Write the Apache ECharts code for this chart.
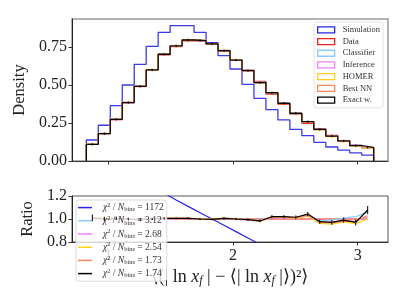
<!DOCTYPE html>
<html>
<head>
<meta charset="utf-8">
<script src="https://cdn.jsdelivr.net/npm/echarts@6/dist/echarts.min.js"></script>
<style>html,body{margin:0;padding:0;background:#fff}#c{width:407px;height:305px}</style>
</head>
<body>
<div id="c"></div>
<script>
// ---- data ----
const nBins = 24;
const binLo = 0.824;
const binW = 0.096;
const simulation = [0.138,0.235,0.364,0.500,0.636,0.754,0.846,0.890,0.890,0.846,0.778,0.693,0.605,0.504,0.412,0.338,0.270,0.208,0.167,0.123,0.092,0.072,0.053,0.039];
const dataHist   = [0.109,0.180,0.273,0.384,0.493,0.599,0.698,0.752,0.791,0.792,0.772,0.722,0.664,0.598,0.524,0.440,0.373,0.309,0.248,0.213,0.169,0.133,0.104,0.083];
const classifier = [0.110,0.181,0.275,0.386,0.492,0.600,0.701,0.756,0.795,0.791,0.771,0.727,0.666,0.596,0.518,0.449,0.379,0.312,0.256,0.210,0.167,0.134,0.106,0.088];
const inference  = [0.110,0.180,0.273,0.383,0.490,0.598,0.700,0.755,0.794,0.790,0.769,0.724,0.662,0.593,0.514,0.446,0.377,0.311,0.255,0.207,0.165,0.131,0.102,0.085];
const homer      = [0.111,0.181,0.275,0.385,0.492,0.600,0.703,0.758,0.797,0.793,0.771,0.727,0.665,0.595,0.514,0.447,0.378,0.311,0.255,0.205,0.161,0.127,0.100,0.083];
const bestNN     = [0.110,0.180,0.274,0.385,0.492,0.600,0.702,0.757,0.796,0.792,0.770,0.726,0.664,0.594,0.515,0.448,0.379,0.313,0.257,0.206,0.163,0.130,0.102,0.086];
const exactW     = [0.110,0.180,0.274,0.384,0.491,0.599,0.702,0.757,0.796,0.792,0.770,0.726,0.664,0.594,0.515,0.449,0.380,0.314,0.259,0.208,0.164,0.132,0.101,0.090];
const exactErr   = [0.008,0.008,0.008,0.008,0.008,0.008,0.008,0.008,0.008,0.008,0.008,0.008,0.008,0.008,0.008,0.008,0.008,0.008,0.008,0.008,0.008,0.008,0.008,0.008];

const rSim   = [1.25,1.31,1.33,1.30,1.29,1.26,1.225,1.165,1.11,1.055,1.0,0.945,0.89,0.835,0.78,0.77,0.72,0.67,0.67,0.58,0.54,0.54,0.51,0.47];
const rData  = [1,1,1,1,1,1,1,1,1,1,1,1,1,1,1,1,1,1,1,1,1,1,1,1];
const rClass = [1.01,1.005,1.008,1.004,0.998,1.002,1.004,1.005,1.005,1.0,0.998,1.007,1.003,0.997,0.988,1.02,1.016,1.01,1.032,0.985,0.99,1.01,1.02,1.06];
const rInf   = [1.0,1.0,1.0,0.997,0.994,0.998,1.002,1.003,1.003,0.998,0.996,1.003,0.997,0.99,0.98,1.012,1.01,1.005,1.025,0.97,0.975,0.985,0.98,1.02];
const rHomer = [1.015,1.005,1.008,1.003,0.998,1.002,1.007,1.008,1.008,1.001,0.999,1.007,1.002,0.995,0.981,1.015,1.013,1.006,1.028,0.962,0.955,0.975,0.96,1.0];
const rBest  = [1.005,1.0,1.004,1.002,0.998,1.001,1.005,1.006,1.006,1.0,0.997,1.005,1.0,0.994,0.983,1.018,1.016,1.012,1.035,0.97,0.965,0.98,0.98,1.03];
const rExact = [1.010,1.000,1.005,1.000,0.995,1.000,1.005,1.006,1.006,1.000,0.997,1.006,1.000,0.994,0.983,1.020,1.020,1.015,1.043,0.977,0.970,0.990,0.970,1.078];
const rExactErr = [0.03,0.02,0.015,0.012,0.01,0.01,0.01,0.01,0.01,0.01,0.01,0.01,0.01,0.012,0.012,0.014,0.014,0.016,0.018,0.02,0.02,0.022,0.026,0.035];

const topNames = ['Simulation','Data','Classifier','Inference','HOMER','Best NN','Exact w.'];
const chiNames = ['rSim','rClass','rInf','rHomer','rBest','rExact'];
const chiValues = ['1172','3.12','2.68','2.54','1.73','1.74'];
const densityTicks = [0, 0.25, 0.5, 0.75];
const ratioTicks = [0.8, 1.0, 1.2];
const xTicks = [1, 2, 3];

// ---- helpers ----
const edges = Array.from({length: nBins + 1}, (_, i) => +(binLo + i * binW).toFixed(4));
const centers = edges.slice(0, -1).map(e => +(e + binW / 2).toFixed(4));
function stepData(vals) {
  const d = [[edges[0], 0]];
  vals.forEach((v, i) => d.push([edges[i], v]));
  d.push([edges[nBins], vals[nBins - 1]]);
  d.push([edges[nBins], 0]);
  return d;
}
const ratioData = vals => vals.map((v, i) => [centers[i], v]);
const errData = (vals, errs) => vals.map((v, i) => [centers[i], v - errs[i], v + errs[i]]);

const colors = {
  Simulation: '#2525e6', Data: '#f02020', Classifier: '#87cefa', Inference: '#ee82ee',
  HOMER: '#ffd21a', 'Best NN': '#f4895a', 'Exact w.': '#000000'
};
const ratioColor = {rSim: colors.Simulation, rClass: colors.Classifier, rInf: colors.Inference,
  rHomer: colors.HOMER, rBest: colors['Best NN'], rExact: '#000000', rData: colors.Data};

const serif = "'Liberation Serif', 'DejaVu Serif', serif";
const xMin = 0.709, xMax = 3.243;

function errSeries(name, xi, yi, data) {
  return {
    type: 'custom', name: name, xAxisIndex: xi, yAxisIndex: yi, data: data, z: 10, silent: true,
    renderItem: function (params, api) {
      const p1 = api.coord([api.value(0), api.value(1)]);
      const p2 = api.coord([api.value(0), api.value(2)]);
      return {type: 'line', shape: {x1: p1[0], y1: p1[1], x2: p2[0], y2: p2[1]},
        style: {stroke: '#000', lineWidth: 1}};
    }
  };
}

const topSeries = [
  ['Simulation', simulation], ['Data', dataHist], ['Classifier', classifier], ['Inference', inference],
  ['HOMER', homer], ['Best NN', bestNN], ['Exact w.', exactW]
].map(([n, v]) => ({
  type: 'line', name: n, xAxisIndex: 0, yAxisIndex: 0, step: 'end', data: stepData(v),
  symbol: 'none', showSymbol: false, color: colors[n],
  lineStyle: {width: 1.3, color: colors[n], opacity: n === 'Simulation' ? 0.9 : 0.95}
}));

const botSeries = [
  ['rSim', rSim], ['rData', rData], ['rClass', rClass], ['rInf', rInf],
  ['rHomer', rHomer], ['rBest', rBest], ['rExact', rExact]
].map(([n, v]) => ({
  type: 'line', name: n, xAxisIndex: 1, yAxisIndex: 1, data: ratioData(v), clip: true,
  symbol: 'none', showSymbol: false, color: ratioColor[n],
  lineStyle: {width: 1.2, color: ratioColor[n]}
}));

const tickLabel = {fontFamily: serif, fontSize: 16, color: '#222'};

const option = {
  animation: false,
  backgroundColor: '#fff',
  grid: [
    {left: 72, top: 19, width: 316, height: 142, show: true, borderColor: '#999', borderWidth: 1.5, backgroundColor: 'transparent'},
    {left: 72, top: 196, width: 316, height: 46, show: true, borderColor: '#555', borderWidth: 1, backgroundColor: 'transparent'}
  ],
  xAxis: [
    {type: 'value', gridIndex: 0, min: xMin, max: xMax,
      axisLine: {show: true, onZero: false, lineStyle: {color: '#333', width: 1}},
      axisTick: {show: true, inside: false, length: 3.5, customValues: xTicks, lineStyle: {color: '#333'}},
      axisLabel: {show: false}, splitLine: {show: false}},
    {type: 'value', gridIndex: 1, min: xMin, max: xMax,
      name: '⟨(| ln {i|x}{sub|f} | − ⟨| ln {i|x}{sub|f} |⟩)²⟩', nameLocation: 'middle', nameGap: 26,
      nameTextStyle: {fontFamily: serif, fontSize: 18, color: '#222',
        rich: {i: {fontFamily: serif, fontStyle: 'italic', fontSize: 18, color: '#222'},
               sub: {fontFamily: serif, fontStyle: 'italic', fontSize: 12, color: '#222', padding: [7, 0, 0, 0]}}},
      axisLine: {show: true, onZero: false, lineStyle: {color: '#333', width: 1}},
      axisTick: {show: true, inside: false, length: 3.5, customValues: xTicks, lineStyle: {color: '#333'}},
      axisLabel: Object.assign({margin: 6, customValues: xTicks, formatter: v => String(Math.round(v))}, tickLabel),
      splitLine: {show: false}}
  ],
  yAxis: [
    {type: 'value', gridIndex: 0, min: 0, max: 0.934,
      name: 'Density', nameLocation: 'middle', nameGap: 32,
      nameTextStyle: {fontFamily: serif, fontSize: 16.5, color: '#222'},
      axisLine: {show: true, lineStyle: {color: '#222', width: 1}},
      axisTick: {show: true, inside: false, length: 3.5, customValues: densityTicks, lineStyle: {color: '#333'}},
      axisLabel: Object.assign({margin: 5, customValues: densityTicks, formatter: v => v.toFixed(2)}, tickLabel),
      splitLine: {show: false}},
    {type: 'value', gridIndex: 1, min: 0.8, max: 1.2,
      name: 'Ratio', nameLocation: 'middle', nameGap: 26,
      nameTextStyle: {fontFamily: serif, fontSize: 16.5, color: '#222'},
      axisLine: {show: true, lineStyle: {color: '#222', width: 1}},
      axisTick: {show: true, inside: false, length: 3.5, customValues: ratioTicks, lineStyle: {color: '#333'}},
      axisLabel: Object.assign({margin: 5, customValues: ratioTicks, formatter: v => v.toFixed(1)}, tickLabel),
      splitLine: {show: false}}
  ],
  legend: [
    {left: 314, top: 22, orient: 'vertical', itemGap: 0, itemWidth: 17, itemHeight: 6,
      padding: [2, 3, 2, 3], backgroundColor: 'rgba(255,255,255,0.8)', borderColor: '#e2e2e2', borderWidth: 1, borderRadius: 3,
      icon: 'rect', selectedMode: false,
      textStyle: {fontFamily: serif, fontSize: 8.5, lineHeight: 11.7, color: '#333', padding: [0, 0, 0, 3]},
      data: topNames.map(n => ({name: n, itemStyle: {color: '#fff', borderColor: colors[n], borderWidth: 1.3}}))},
    {left: 76, top: 200, orient: 'vertical', itemGap: 0, itemWidth: 14, itemHeight: 1.5,
      padding: [1, 3, 1, 2], backgroundColor: 'rgba(255,255,255,0.8)', borderColor: '#dcdcdc', borderWidth: 1, borderRadius: 3,
      icon: 'rect', selectedMode: false,
      formatter: function (name) {
        return '{i|χ}{sup|2} / {i|N}{sub|bins} = ' + chiValues[chiNames.indexOf(name)];
      },
      textStyle: {fontFamily: serif, fontSize: 9.5, lineHeight: 13.2, color: '#333', padding: [0, 0, 0, 6],
        rich: {i: {fontFamily: serif, fontStyle: 'italic', fontSize: 9.5, color: '#333'},
               sup: {fontFamily: serif, fontSize: 6.5, color: '#333', padding: [0, 0, 5, 0]},
               sub: {fontFamily: serif, fontSize: 6.5, color: '#333', padding: [4, 0, 0, 0]}}},
      data: chiNames.map(n => ({name: n, itemStyle: {color: ratioColor[n]}}))}
  ],
  series: [
    ...topSeries,
    errSeries('errTop', 0, 0, errData(exactW, exactErr)),
    ...botSeries,
    errSeries('errRatio', 1, 1, errData(rExact, rExactErr))
  ]
};

const chart = echarts.init(document.getElementById('c'), null, {renderer: 'canvas'});
chart.setOption(option);
</script>
</body>
</html>
